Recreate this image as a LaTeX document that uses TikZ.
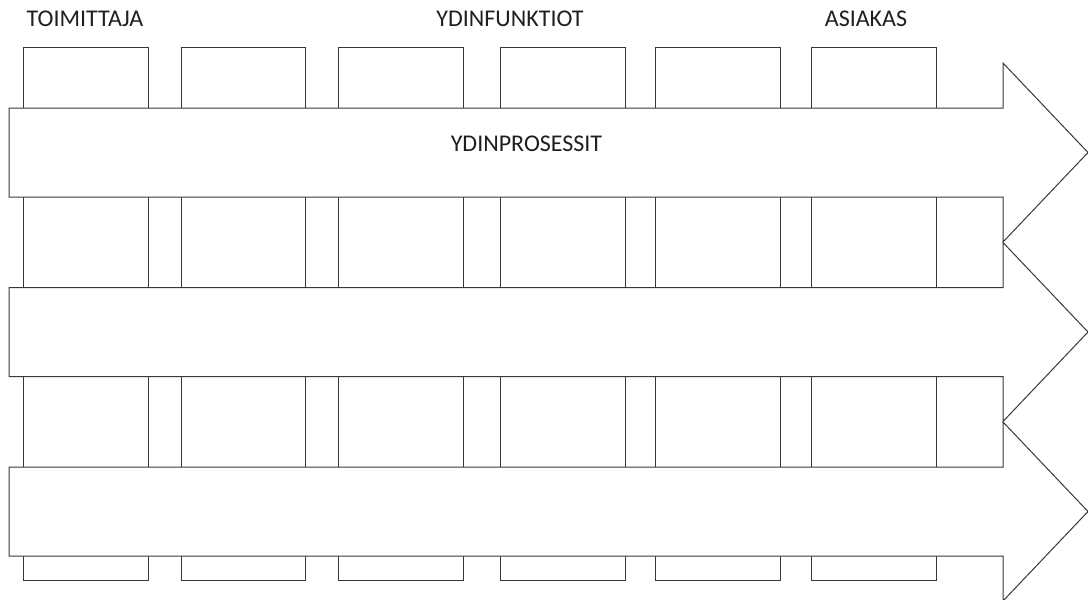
\documentclass[tikz,border=0pt]{standalone}
\usepackage{fontspec}
\setmainfont{Carlito}
\begin{document}
\begin{tikzpicture}[x=1pt,y=-1pt,
  line width=1pt,
  colbox/.style={draw=black!78,fill=white},
  procarrow/.style={draw=black!78,fill=white,line join=miter},
  lbl/.style={inner sep=0pt,anchor=base,text=black!88,font=\fontsize{24}{28}\selectfont}]
\useasboundingbox (0,0) rectangle (1088,600);
% columns
\foreach \n/\xa/\xb in {1/23/148,2/181/305,3/338/463,4/500/625,5/655/780,6/811/936}{
  \draw[colbox] (\xa,47) rectangle (\xb,580) coordinate (col\n);
}
% process arrows
\foreach \n/\c in {1/152.5,2/332,3/511.5}{
  \draw[procarrow] (9,\c-44.5) -- (1003,\c-44.5) -- (1003,\c-89.5) -- (1088,\c)
    -- (1003,\c+89.5) -- (1003,\c+44.5) -- (9,\c+44.5) -- cycle;
  \coordinate (arr\n) at (526,\c);
}
% labels
\node[lbl] (toim) at (85,26) {TOIMITTAJA};
\node[lbl] (ydf) at (510,26) {YDINFUNKTIOT};
\node[lbl] (asi) at (866,26) {ASIAKAS};
\node[lbl] (ydp) at (526.5,151) {YDINPROSESSIT};
\end{tikzpicture}
\end{document}
